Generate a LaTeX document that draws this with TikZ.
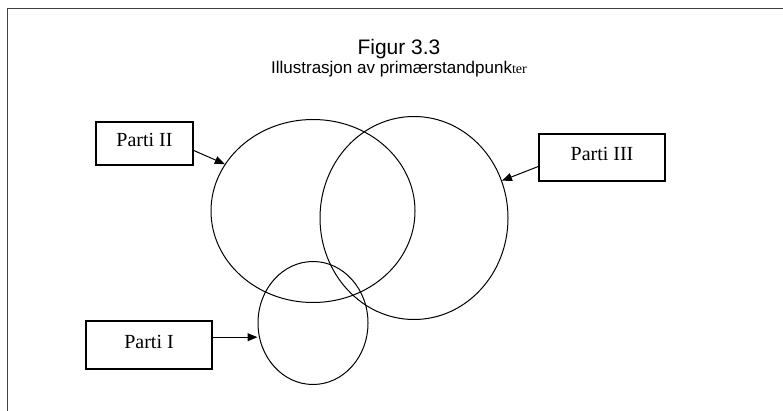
\documentclass[tikz,border=0pt]{standalone}
\usepackage{fontspec}
\setmainfont{Liberation Serif}
\newfontfamily\arialfont{Liberation Sans}
\usetikzlibrary{shapes.geometric,arrows.meta}

\begin{document}
\begin{tikzpicture}[x=1pt,y=-1pt,
  partibox/.style={draw,line width=1.1pt,font=\fontsize{20}{24}\selectfont,
    text height=13pt,text depth=6pt,inner sep=0pt},
  kreis/.style={draw,ellipse,line width=1pt,inner sep=0pt},
  pil/.style={-{Triangle[length=10pt,width=8pt]},line width=1pt}]
\useasboundingbox (0,0) rectangle (783,411);
\clip (0,0) rectangle (783,411);
\draw[line width=1.6pt,black!75] (7.5,430) -- (7.5,8.5) -- (800,8.5);
\node[anchor=base,font=\arialfont\fontsize{21}{25}\selectfont] (tittel) at (399,55) {Figur 3.3};
\node[anchor=base,font=\arialfont\fontsize{17}{21}\selectfont] (undertittel) at (399,73.5)
  {Illustrasjon av primærstandpunk{\rmfamily\fontsize{14}{17}\selectfont ter}};
\node[kreis,minimum width=204pt,minimum height=183pt] (kreis2) at (313,211) {};
\node[kreis,minimum width=188pt,minimum height=203pt] (kreis3) at (414,218) {};
\node[kreis,minimum width=110pt,minimum height=123pt] (kreis1) at (313,323) {};
\node[partibox,minimum width=97pt,minimum height=43pt] (parti2) at (144.5,143.5) {Parti II};
\node[partibox,minimum width=126pt,minimum height=47pt] (parti3) at (602,157.5) {Parti III};
\node[partibox,minimum width=126pt,minimum height=48pt] (parti1) at (149,345) {Parti I};
\draw[pil] (parti2.-8) -- (kreis2.152);
\draw[pil] (parti3.188) -- (kreis3.23);
\draw[pil] (parti1.7) -- (parti1.7 -| kreis1.west);
\end{tikzpicture}
\end{document}
